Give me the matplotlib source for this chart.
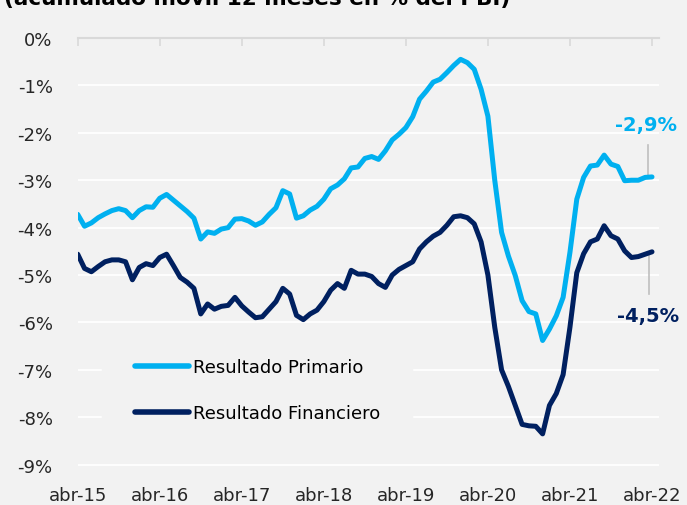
import matplotlib.pyplot as plt

# monthly data, abr-15 .. abr-22 (acumulado movil 12 meses, % del PBI)
primario = [
    -3.72, -3.97, -3.90, -3.79, -3.71, -3.64, -3.60, -3.64, -3.79, -3.64,
    -3.56, -3.57, -3.38, -3.30, -3.42, -3.54, -3.66, -3.80, -4.24, -4.09,
    -4.12, -4.03, -4.00, -3.82, -3.81, -3.86, -3.95, -3.88, -3.72, -3.58,
    -3.22, -3.29, -3.80, -3.75, -3.63, -3.55, -3.40, -3.18, -3.10, -2.97,
    -2.74, -2.72, -2.54, -2.50, -2.56, -2.38, -2.15, -2.03, -1.89, -1.66,
    -1.29, -1.12, -0.93, -0.87, -0.73, -0.58, -0.45, -0.52, -0.66, -1.08,
    -1.65, -3.00, -4.10, -4.60, -5.01, -5.54, -5.77, -5.82, -6.38, -6.14,
    -5.86, -5.47, -4.52, -3.40, -2.94, -2.70, -2.68, -2.47, -2.66, -2.71,
    -3.01, -3.00, -3.00, -2.94, -2.93,
]
financiero = [
    -4.56, -4.86, -4.93, -4.82, -4.72, -4.68, -4.68, -4.72, -5.10, -4.84,
    -4.76, -4.80, -4.63, -4.56, -4.80, -5.05, -5.15, -5.28, -5.82, -5.61,
    -5.72, -5.66, -5.64, -5.47, -5.65, -5.78, -5.90, -5.88, -5.72, -5.56,
    -5.28, -5.40, -5.85, -5.94, -5.82, -5.74, -5.56, -5.32, -5.18, -5.28,
    -4.90, -4.98, -4.98, -5.03, -5.18, -5.26, -5.00, -4.88, -4.80, -4.72,
    -4.45, -4.30, -4.18, -4.10, -3.95, -3.77, -3.75, -3.79, -3.92, -4.30,
    -5.00, -6.10, -7.00, -7.35, -7.75, -8.15, -8.18, -8.19, -8.35, -7.75,
    -7.50, -7.10, -6.10, -4.95, -4.55, -4.30, -4.24, -3.96, -4.17, -4.24,
    -4.49, -4.63, -4.61, -4.56, -4.51,
]
x_labels = ['abr-15', 'abr-16', 'abr-17', 'abr-18', 'abr-19', 'abr-20', 'abr-21', 'abr-22']
y_ticks = [0, -1, -2, -3, -4, -5, -6, -7, -8, -9]
label_primario = '-2,9%'
label_financiero = '-4,5%'

CYAN = '#00B0F0'
NAVY = '#002060'
BG = '#f2f2f2'

plt.rcParams['font.family'] = ['DejaVu Sans']
plt.rcParams['axes.unicode_minus'] = False

months = list(range(len(primario)))

fig = plt.figure(figsize=(6.87, 5.06), dpi=100, facecolor=BG)
ax = fig.add_axes([0.1131, 0.0703, 0.8459, 0.8526])
ax.set_facecolor(BG)

ax.plot(months, primario, color=CYAN, lw=3.6, solid_joinstyle='round',
        solid_capstyle='round', label='Resultado Primario', zorder=3)
ax.plot(months, financiero, color=NAVY, lw=3.6, solid_joinstyle='round',
        solid_capstyle='round', label='Resultado Financiero', zorder=3)

ax.set_xlim(0, 85)
ax.set_ylim(-9.1, 0)

ax.set_yticks(y_ticks)
ax.set_yticklabels([f'{v}%' for v in y_ticks])
ax.set_xticks([12 * i for i in range(len(x_labels))])
ax.set_xticklabels(x_labels)

ax.grid(axis='y', color='white', lw=1.3, zorder=1)
ax.grid(axis='x', visible=False)
for side in ['left', 'right', 'bottom']:
    ax.spines[side].set_visible(False)
ax.spines['top'].set_color('#d9d9d9')
ax.spines['top'].set_linewidth(1.5)

ax.tick_params(axis='y', length=0, pad=18, labelsize=13, labelcolor='#262626')
ax.tick_params(axis='x', top=True, bottom=False, labeltop=False, labelbottom=True,
               direction='in', length=6, width=1.2, color='#d9d9d9',
               pad=12, labelsize=13, labelcolor='#262626')

# end labels with leader lines
xe, pe, fe = months[-1], primario[-1], financiero[-1]
ax.plot([xe - 0.6, xe - 0.6], [pe + 0.05, pe + 0.67], color='#bfbfbf', lw=1.2, zorder=2)
ax.plot([xe - 0.4, xe - 0.4], [fe - 0.05, fe - 0.9], color='#bfbfbf', lw=1.2, zorder=2)
ax.annotate(label_primario, xy=(xe, pe), xytext=(-4, 38), textcoords='offset points',
            ha='center', va='center', fontsize=14, fontweight='bold', color=CYAN)
ax.annotate(label_financiero, xy=(xe, fe), xytext=(-3, -46), textcoords='offset points',
            ha='center', va='center', fontsize=14, fontweight='bold', color=NAVY)

leg = ax.legend(loc='upper left', bbox_to_anchor=(0.1485, 0.355),
                bbox_transform=fig.transFigure, fontsize=13, frameon=True,
                facecolor=BG, edgecolor=BG, framealpha=1, fancybox=False,
                borderpad=1.8, handlelength=3.0, handletextpad=0.22,
                labelspacing=1.55, borderaxespad=0)
for line in leg.get_lines():
    line.set_linewidth(4.0)
    line.set_solid_capstyle('round')

fig.text(0.006, 0.99, '(acumulado móvil 12 meses en % del PBI)', fontsize=15.5,
         fontweight='bold', color='black', va='baseline', ha='left')

fig.savefig('out.png', dpi=100, facecolor=BG)
